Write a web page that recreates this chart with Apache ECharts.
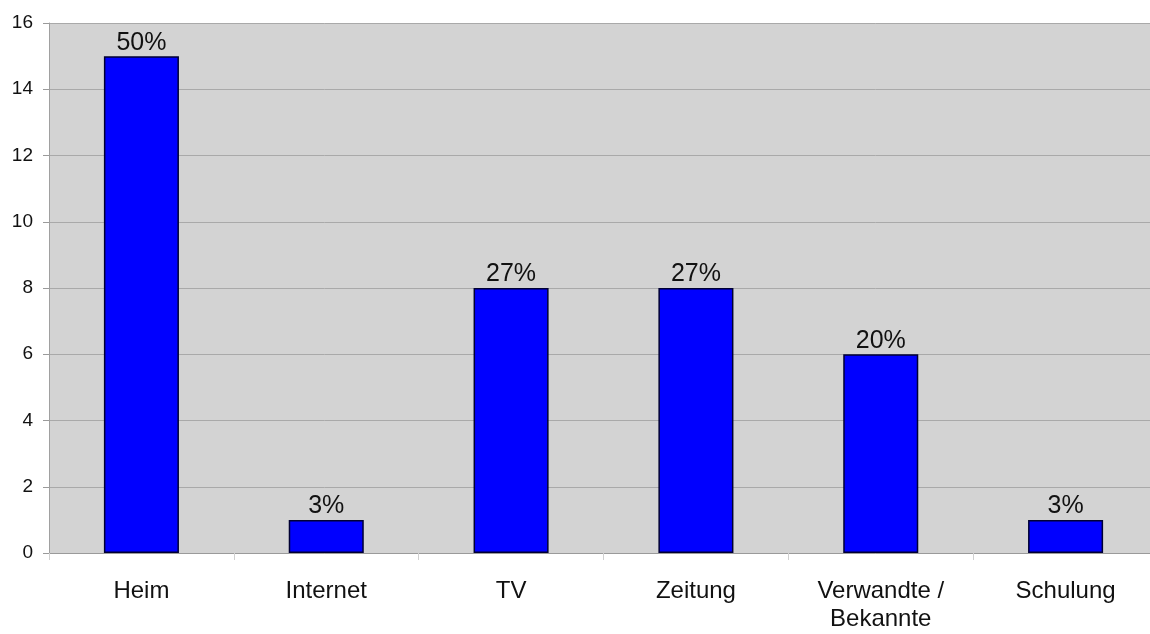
<!DOCTYPE html>
<html>
<head>
<meta charset="utf-8">
<script src="https://cdn.jsdelivr.net/npm/echarts@6/dist/echarts.min.js"></script>
<style>
  html, body { margin: 0; padding: 0; background: #ffffff; }
  #chart { width: 1150px; height: 634px; }
</style>
</head>
<body>
<div id="chart"></div>
<script>
// Responses by source
const categories = ['Heim', 'Internet', 'TV', 'Zeitung', 'Verwandte /\nBekannte', 'Schulung'];
const counts = [15, 1, 8, 8, 6, 1];
const shareLabels = ['50%', '3%', '27%', '27%', '20%', '3%'];
const yTicks = { min: 0, max: 16, interval: 2 };

const chart = echarts.init(document.getElementById('chart'), null, { renderer: 'canvas' });

chart.setOption({
  animation: false,
  backgroundColor: '#ffffff',
  textStyle: { fontFamily: 'Liberation Sans, Arial, sans-serif' },
  // the plot area runs slightly past the right edge of the canvas
  grid: {
    left: 49, width: 1109, top: 23, bottom: 81,
    show: true, backgroundColor: '#d3d3d3', borderWidth: 0,
    outerBoundsMode: 'none'
  },
  xAxis: {
    type: 'category',
    data: categories,
    axisLine: { show: true, lineStyle: { color: '#9a9a9a', width: 1 } },
    axisTick: { show: true, alignWithLabel: false, length: 7, lineStyle: { color: '#d0d0d0' } },
    axisLabel: { fontSize: 24, color: '#111', margin: 24, lineHeight: 28 },
    splitLine: { show: false }
  },
  yAxis: {
    type: 'value',
    min: yTicks.min, max: yTicks.max, interval: yTicks.interval,
    axisLine: { show: true, lineStyle: { color: '#a0a0a0', width: 1 } },
    axisTick: { show: true, length: 6, lineStyle: { color: '#9a9a9a' } },
    axisLabel: { fontSize: 19, color: '#111', margin: 16 },
    splitLine: { show: true, lineStyle: { color: '#a9a9a9', width: 1 } }
  },
  series: [{
    type: 'bar',
    data: counts,
    barWidth: '40.6%',
    itemStyle: { color: '#0000ff', borderColor: '#000033', borderWidth: 1.5 },
    label: {
      show: true,
      position: 'top',
      distance: 1,
      fontSize: 25,
      color: '#111',
      formatter: p => shareLabels[p.dataIndex]
    }
  }]
});
</script>
</body>
</html>
